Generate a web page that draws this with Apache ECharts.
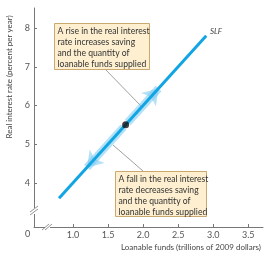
<!DOCTYPE html>
<html>
<head>
<meta charset="utf-8">
<script src="https://cdn.jsdelivr.net/npm/echarts@6/dist/echarts.min.js"></script>
<style>
html,body{margin:0;padding:0;background:#fff;}
#main{width:267px;height:257px;}
</style>
</head>
<body>
<div id="main"></div>
<script>
// 数据
var xTicks = [1.0, 1.5, 2.0, 2.5, 3.0, 3.5]
var yTicks = [4, 5, 6, 7, 8]
var slfLine = [[0.8, 3.6], [2.9, 7.8]]
var eqPoint = [[1.75, 5.5]]
var upArrow = [[1.78, 5.56], [2.22, 6.44]]
var downArrow = [[1.72, 5.44], [1.2, 4.4]]

var myChart = echarts.init(document.getElementById('main'))
var font = 'Lato'
var boxText1 = 'A rise in the real interest\nrate increases saving\nand the quantity of\nloanable funds supplied'
var boxText2 = 'A fall in the real interest\nrate decreases saving\nand the quantity of\nloanable funds supplied'

function box(x, y, w, h, txt){
    return {
        type: 'group', left: x, top: y, z: 100,
        children: [
            {type: 'rect', shape: {x: 0, y: 0, width: w, height: h},
             style: {fill: '#fdefcf', stroke: '#c9a96e', lineWidth: 1}},
            {type: 'text', x: 3, y: 2,
             style: {text: txt, fill: '#333', font: '8.6px ' + font, lineHeight: 11}}
        ]
    }
}

var option = {
    animation: false,
    grid: {left: 34, top: 8, right: 4, bottom: 30},
    xAxis: {
        type: 'value', min: 0.443, max: 3.71,
        axisLine: {lineStyle: {color: '#777'}},
        axisTick: {inside: true, length: 3, customValues: xTicks, lineStyle: {color: '#777'}},
        axisLabel: {customValues: xTicks, color: '#555', fontSize: 9, fontFamily: font, margin: 4,
            formatter: function(v){ return v.toFixed(1) }},
        splitLine: {show: false}
    },
    yAxis: {
        type: 'value', min: 2.86, max: 8.52,
        axisLine: {show: true, lineStyle: {color: '#777'}},
        axisTick: {show: true, inside: true, length: 3, customValues: yTicks, lineStyle: {color: '#777'}},
        axisLabel: {customValues: yTicks, color: '#555', fontSize: 9, fontFamily: font, margin: 4},
        splitLine: {show: false}
    },
    series: [
        {
            type: 'lines', coordinateSystem: 'cartesian2d', z: 1,
            polyline: false,
            symbol: ['none', 'arrow'], symbolSize: 15,
            lineStyle: {color: 'rgba(120,200,240,0.55)', width: 8, opacity: 1},
            data: [{coords: upArrow}, {coords: downArrow}]
        },
        {
            type: 'line', data: slfLine, showSymbol: false, z: 3,
            lineStyle: {color: '#12a5e3', width: 3}
        },
        {
            type: 'scatter', data: eqPoint, z: 5, symbolSize: 7,
            itemStyle: {color: '#111'}
        }
    ],
    graphic: [
        // 标注框和引线
        {type: 'line', shape: {x1: 105, y1: 69, x2: 141, y2: 106}, style: {stroke: '#888', lineWidth: 0.8}},
        {type: 'line', shape: {x1: 113, y1: 145, x2: 143, y2: 171}, style: {stroke: '#888', lineWidth: 0.8}},
        box(54, 23, 95, 46, boxText1),
        box(115, 171, 91, 45, boxText2),
        {type: 'text', left: 210, top: 27, style: {text: 'SLF', fill: '#444', font: 'italic 8px ' + font}},
        {type: 'text', left: 25, top: 230, style: {text: '0', fill: '#555', font: '9px ' + font}},
        {type: 'text', x: 9, y: 77, rotation: Math.PI / 2,
         style: {text: 'Real interest rate (percent per year)', fill: '#444', font: '8px ' + font, align: 'center', verticalAlign: 'middle'}},
        {type: 'text', x: 191, y: 247,
         style: {text: 'Loanable funds (trillions of 2009 dollars)', fill: '#444', font: '8px ' + font, align: 'center', verticalAlign: 'middle'}},
        // 断轴符号
        {type: 'rect', shape: {x: 31, y: 208, width: 7, height: 6}, style: {fill: '#fff'}, z: 50},
        {type: 'line', shape: {x1: 30, y1: 212, x2: 38, y2: 206}, style: {stroke: '#777', lineWidth: 0.8}, z: 51},
        {type: 'line', shape: {x1: 30, y1: 215, x2: 38, y2: 209}, style: {stroke: '#777', lineWidth: 0.8}, z: 51},
        {type: 'rect', shape: {x: 45, y: 225, width: 5, height: 5}, style: {fill: '#fff'}, z: 50},
        {type: 'line', shape: {x1: 42, y1: 230, x2: 49, y2: 224}, style: {stroke: '#777', lineWidth: 0.8}, z: 51},
        {type: 'line', shape: {x1: 45, y1: 230, x2: 52, y2: 224}, style: {stroke: '#777', lineWidth: 0.8}, z: 51}
    ]
}
myChart.setOption(option)
</script>
</body>
</html>
